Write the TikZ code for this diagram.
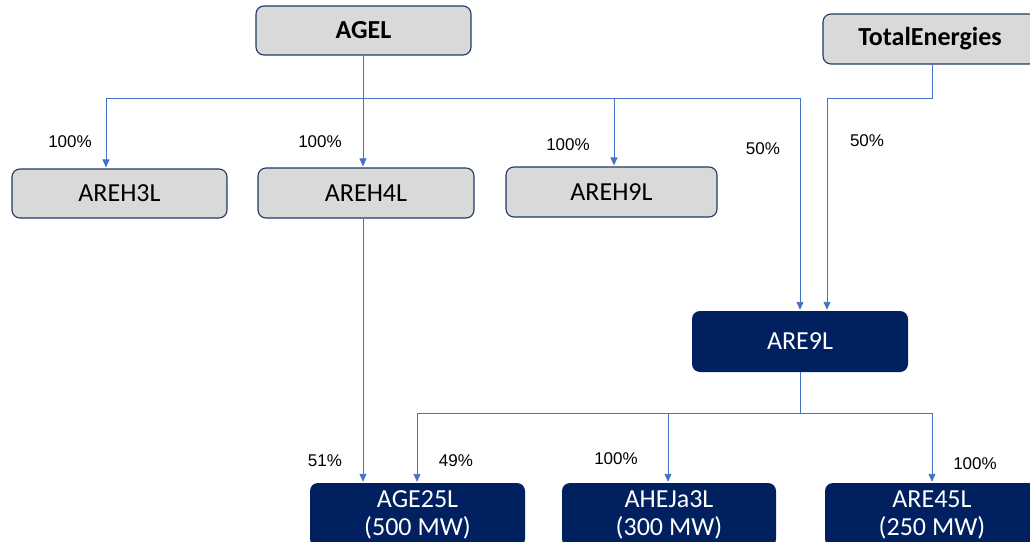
\documentclass[tikz,border=0pt]{standalone}
\usepackage{fontspec}
\setmainfont{Carlito}
\newfontfamily\pctfont{Liberation Sans}
\usetikzlibrary{arrows.meta}
\definecolor{navy}{HTML}{002060}
\definecolor{boxgray}{HTML}{D9D9D9}
\definecolor{edge}{HTML}{203864}
\definecolor{lnk}{HTML}{4472C4}
\begin{document}
\begin{tikzpicture}[x=1pt,y=-1pt,
  graybox/.style={draw=edge,line width=1.1pt,fill=boxgray,rounded corners=8pt,minimum width=215pt,minimum height=49pt,inner sep=0pt,font=\fontsize{26}{28}\selectfont},
  navybox/.style={fill=navy,rounded corners=8pt,minimum width=215pt,inner sep=0pt,text=white,align=center,font=\fontsize{26}{28}\selectfont},
  lk/.style={draw=lnk,line width=0.9pt},
  arr/.style={lk,-{Triangle[width=7pt,length=8pt]}},
  pct/.style={font=\pctfont\fontsize{17}{19}\selectfont,inner sep=0pt}]
\useasboundingbox (0,0) rectangle (1030,541);
\clip (0,0) rectangle (1030,541);
% boxes
\node[graybox] (agel) at (363.5,30.5) {\bfseries AGEL};
\node[graybox,minimum width=214pt,minimum height=50pt] (total) at (930,39) {\bfseries TotalEnergies};
\node[graybox] (areh3l) at (119.5,193.5) {AREH3L};
\node[graybox,minimum width=216pt,minimum height=50pt] (areh4l) at (366,193) {AREH4L};
\node[graybox,minimum width=211pt,minimum height=50pt] (areh9l) at (611.5,192) {AREH9L};
\node[navybox,minimum width=216pt,minimum height=61pt] (are9l) at (800,341.5) {ARE9L};
\node[navybox,minimum height=64pt] (age25l) at (417.5,515) {AGE25L\\(500 MW)};
\node[navybox,minimum width=214pt,minimum height=64pt] (ahej) at (669,515) {AHEJa3L\\(300 MW)};
\node[navybox,minimum width=214pt,minimum height=64pt] (are45l) at (932,515) {ARE45L\\(250 MW)};
% top connectors
\coordinate (hl) at (106,98);
\coordinate (hm) at (363,98);
\coordinate (h9) at (614,98);
\coordinate (hr) at (800,98);
\coordinate (tl) at (827,98);
\coordinate (tr) at (932,98);
\draw[lk] (hl) -- (hr);
\draw[lk] (agel.south -| hm) -- (hm);
\draw[arr,shorten >=1pt] (hm) -- (hm |- areh4l.north);
\draw[arr,shorten >=1pt] (hl) -- (hl |- areh3l.north);
\draw[arr,shorten >=1pt] (h9) -- (h9 |- areh9l.north);
\draw[arr,shorten >=1pt] (hr) -- (hr |- are9l.north);
\draw[lk] (total.south -| tr) -- (tr) -- (tl);
\draw[arr,shorten >=1pt] (tl) -- (tl |- are9l.north);
% bottom connectors
\coordinate (bl) at (417,413);
\coordinate (bm) at (668,413);
\coordinate (bc) at (800,413);
\coordinate (br) at (932,413);
\draw[lk] (bl) -- (br);
\draw[lk] (are9l.south) -- (bc);
\draw[arr,shorten >=1pt] (bl) -- (bl |- age25l.north);
\draw[arr,shorten >=1pt] (bm) -- (bm |- ahej.north);
\draw[arr,shorten >=1pt] (br) -- (br |- are45l.north);
\draw[arr,shorten >=1pt] (areh4l.south -| hm) -- (hm |- age25l.north);
% labels
\node[pct] (p1) at (70,142) {100\%};
\node[pct] (p2) at (320,142) {100\%};
\node[pct] (p3) at (568,145) {100\%};
\node[pct] (p4) at (763,149) {50\%};
\node[pct] (p5) at (867,141) {50\%};
\node[pct] (p6) at (325,461) {51\%};
\node[pct] (p7) at (456,461) {49\%};
\node[pct] (p8) at (616,459) {100\%};
\node[pct] (p9) at (975,464) {100\%};
\end{tikzpicture}
\end{document}
